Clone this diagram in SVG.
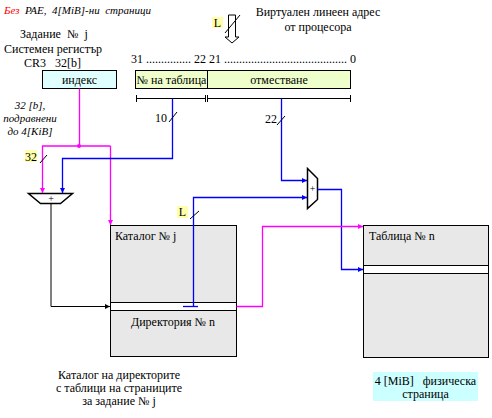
<svg xmlns="http://www.w3.org/2000/svg" width="492" height="418" viewBox="0 0 492 418">
<defs>
<style>
text{font-family:"Liberation Serif","Times New Roman",serif;font-size:12px;fill:#000;white-space:pre}
.it{font-style:italic;font-size:11px}
.mid{text-anchor:middle}
.k{stroke:#000;stroke-width:1;fill:none}
.b{stroke:#0000FF;stroke-width:1.3;fill:none}
.m{stroke:#FF00FF;stroke-width:1.3;fill:none}
.box{fill:#E8E8E8;stroke:#000;stroke-width:1}
.row{fill:#fff;stroke:#000;stroke-width:1}
.lbl{fill:#FFFFAA}
</style>
<marker id="ab" markerWidth="6" markerHeight="6" refX="5" refY="3" orient="auto" markerUnits="userSpaceOnUse"><path d="M0,0.5 L5,3 L0,5.5 Z" fill="#0000FF"/></marker>
<marker id="am" markerWidth="6" markerHeight="6" refX="5" refY="3" orient="auto" markerUnits="userSpaceOnUse"><path d="M0,0.5 L5,3 L0,5.5 Z" fill="#FF00FF"/></marker>
<marker id="ak" markerWidth="6" markerHeight="6" refX="5" refY="3" orient="auto" markerUnits="userSpaceOnUse"><path d="M0,0.5 L5,3 L0,5.5 Z" fill="#000"/></marker>
</defs>
<rect width="492" height="418" fill="#fff"/>

<g id="title">
<text x="4" y="14" class="it" xml:space="preserve"><tspan fill="#FF0000">Без</tspan>  PAE,  4[MiB]-ни  страници</text>
</g>

<g id="vaddr-label">
<text x="318" y="16" class="mid">Виртуален линеен адрес</text>
<text x="318" y="31" class="mid">от процесора</text>
<path d="M228.5,15 H235.5 V37 H239 L232,43 L225,37 H228.5 Z" fill="#fff" stroke="#000" stroke-width="1"/>
<line x1="225" y1="33" x2="240" y2="15" class="k"/>
<rect x="212" y="17" width="11" height="11" class="lbl"/>
<text x="217.5" y="26.5" class="mid">L</text>
</g>

<g id="task">
<text x="20" y="38" xml:space="preserve">Задание  №  j</text>
<text x="4" y="53">Системен регистър</text>
<text x="24" y="67" xml:space="preserve">CR3   32[b]</text>
<text x="131" y="63">31 ............... 22</text>
<text x="209" y="63">21 ......................................... 0</text>
</g>

<g id="cr3">
<rect x="42.5" y="70.5" width="74" height="18" fill="#E0FFFF" stroke="#000"/>
<text x="79.5" y="83.5" class="mid">индекс</text>
</g>

<g id="linaddr">
<rect x="135.5" y="70.5" width="72" height="18" fill="#EEFFCC" stroke="#000"/>
<text x="171.5" y="83.5" class="mid">№ на таблица</text>
<rect x="207.5" y="70.5" width="143" height="18" fill="#EEFFCC" stroke="#000"/>
<text x="279" y="83.5" class="mid">отместване</text>
</g>

<g id="dims">
<path d="M136,98.5 H205 M136.5,95 V102 M205.5,95 V102 M207.5,95 V102 M207.5,98.5 H351 M350.5,95 V102" class="k"/>
</g>

<g id="note32">
<text x="30" y="109" class="it mid">32 [b],</text>
<text x="30" y="122" class="it mid">подравнени</text>
<text x="30" y="135" class="it mid">до 4[KiB]</text>
</g>

<g id="adder1">
<path d="M28.5,193.5 H72.5 L60.5,203.5 H40.5 Z" fill="#fff" stroke="#000" stroke-width="1.5"/>
<text x="51" y="201.5" class="mid" style="font-size:10px">+</text>
</g>

<g id="adder2">
<path d="M307.5,168.5 L317.5,178.5 V199.5 L307.5,208.5 Z" fill="#fff" stroke="#000" stroke-width="1.5"/>
<text x="312.5" y="192" class="mid" style="font-size:10px">+</text>
</g>

<g id="catalog">
<rect x="110.5" y="225.5" width="126" height="131" class="box"/>
<rect x="110.5" y="302.5" width="126" height="8" class="row"/>
<text x="115" y="240">Каталог № j</text>
<text x="173" y="326" class="mid">Директория № n</text>
</g>

<g id="table">
<rect x="363.5" y="225.5" width="125" height="132" class="box"/>
<rect x="363.5" y="265.5" width="125" height="8" class="row"/>
<text x="369" y="240">Таблица № n</text>
</g>

<g id="page">
<rect x="373" y="372" width="105" height="29" fill="#CCFFFF"/>
<text x="425.5" y="384.5" class="mid" xml:space="preserve">4 [MiB]   физическа</text>
<text x="425.5" y="397.5" class="mid">страница</text>
</g>

<g id="catalog-caption">
<text x="119" y="379" class="mid">Каталог на директорите</text>
<text x="119" y="392" class="mid">с таблици на страниците</text>
<text x="119" y="405" class="mid">за задание № j</text>
</g>

<g id="connectors">
<path d="M79.5,88.5 V146" class="m"/>
<circle cx="79" cy="146" r="2" fill="#FF00FF"/>
<path d="M110.5,146 H42.5 V193" class="m" marker-end="url(#am)"/>
<path d="M110.5,146 V225" class="m" marker-end="url(#am)"/>
<rect x="25" y="150" width="12" height="12" class="lbl"/>
<text x="31" y="160.5" class="mid">32</text>
<line x1="40" y1="163" x2="47" y2="155" class="k"/>
<path d="M172.5,98.5 V158.5 H62.5 V193" class="b" marker-end="url(#ab)"/>
<text x="155" y="122">10</text>
<line x1="169" y1="122" x2="177" y2="112" class="k"/>
<path d="M281.5,98.5 V180.5 H307" class="b" marker-end="url(#ab)"/>
<text x="265" y="123">22</text>
<line x1="277" y1="125" x2="285" y2="116" class="k"/>
<path d="M193.5,306.5 V197.5 H307" class="b" marker-end="url(#ab)"/>
<path d="M183,306.5 H198" class="b"/>
<rect x="177" y="206" width="11" height="12" class="lbl"/>
<text x="182.5" y="216" class="mid">L</text>
<line x1="190" y1="219" x2="199" y2="211" class="k"/>
<path d="M317.5,189.5 H341.5 V269.5 H363" class="b" marker-end="url(#ab)"/>
<path d="M51,203.5 V306.5 H110" class="k" marker-end="url(#ak)"/>
<path d="M236.5,306.5 H262.5 V226.5 H363" class="m" marker-end="url(#am)"/>
</g>
</svg>
